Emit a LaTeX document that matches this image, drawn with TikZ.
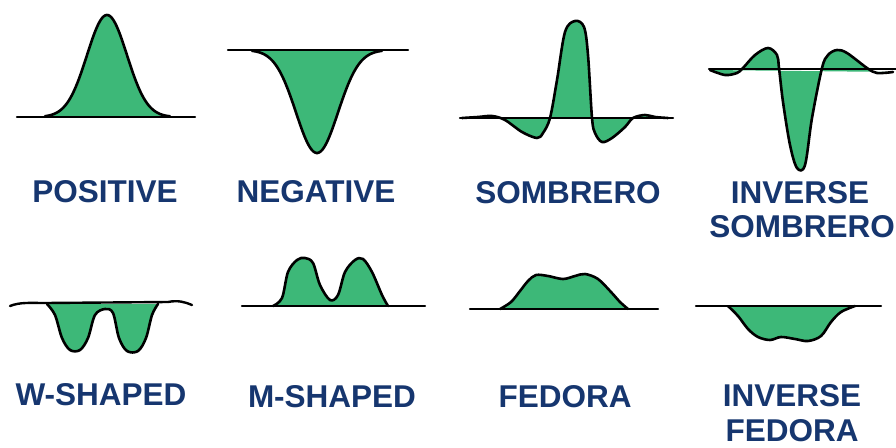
\documentclass[tikz,border=0pt]{standalone}
\usepackage{fontspec}
\setmainfont{Liberation Sans}
\definecolor{curvegreen}{HTML}{3DB878}
\definecolor{labelblue}{HTML}{16366F}
\begin{document}
\begin{tikzpicture}[x=1pt,y=-1pt,
  area/.style={fill=curvegreen},
  curve/.style={draw=black,line width=2.6pt,line join=round,line cap=round},
  axis/.style={draw=black,line width=2.4pt,line cap=round},
  lbl/.style={anchor=base,inner sep=0pt,text=labelblue,font=\fontsize{31.5}{34}\selectfont\bfseries}]
\useasboundingbox (0,0) rectangle (896,447);
\fill[white] (0,0) rectangle (896,447);

% POSITIVE
\fill[area] plot[domain=45:170,samples=90] (\x,{117-102*exp(-((\x-107)/20)*((\x-107)/20)/2)}) -- cycle;
\draw[axis] (17,117) -- (195,117);
\draw[curve] plot[domain=45:170,samples=90] (\x,{117-102*exp(-((\x-107)/20)*((\x-107)/20)/2)});
\node[lbl] (positive) at (105,202) {POSITIVE};

% NEGATIVE
\fill[area] plot[domain=252:382,samples=90] (\x,{50+103*exp(-((\x-317)/21)*((\x-317)/21)/2)}) -- cycle;
\draw[axis] (228,50) -- (408,50);
\draw[curve] plot[domain=252:382,samples=90] (\x,{50+103*exp(-((\x-317)/21)*((\x-317)/21)/2)});
\node[lbl] (negative) at (316,202) {NEGATIVE};

% SOMBRERO
\def\sombrero{(462,118) (478,117) (492,116) (505,120) (522,132) (537,138) (543,133) (550,118) (557,80) (565,32) (575,21) (584,27) (588,55) (592,118) (595,133) (602,142) (612,138) (625,127) (633,118) (645,115) (655,117) (668,118)}
\fill[area] plot[smooth,tension=0.55] coordinates {\sombrero} -- cycle;
\draw[axis] (460,118) -- (673,118);
\draw[curve] plot[smooth,tension=0.55] coordinates {\sombrero};
\node[lbl] (sombrero) at (568,203) {SOMBRERO};

% INVERSE SOMBRERO
\def\invsomb{(710,70) (725,75) (737,73) (743,68) (755,55) (768,48) (777,55) (779,68) (783,102) (790,145) (797,168) (805,165) (812,118) (822,68) (828,55) (837,50) (847,53) (867,68) (877,73) (893,72)}
\fill[area] plot[smooth,tension=0.55] coordinates {\invsomb} -- cycle;
\draw[axis] (709,69) -- (896,69);
\draw[curve] plot[smooth,tension=0.55] coordinates {\invsomb};
\node[lbl] (invsomb1) at (800,203) {INVERSE};
\node[lbl] (invsomb2) at (802,237) {SOMBRERO};

% W-SHAPED
\def\wshape{(47,304) (55,315) (62,338) (70,350) (80,350) (88,338) (95,315) (105,309) (113,313) (119,338) (127,351) (138,351) (146,338) (152,315) (158,304)}
\fill[area] plot[smooth,tension=0.55] coordinates {\wshape} -- cycle;
\draw[axis] (10,306) .. controls (20,302) and (30,303) .. (45,303) -- (168,302) .. controls (178,300) and (185,302) .. (192,305);
\draw[curve] plot[smooth,tension=0.55] coordinates {\wshape};
\node[lbl] (wshaped) at (101,405) {W-SHAPED};

% M-SHAPED
\def\mshape{(273,306) (282,298) (288,272) (297,260) (305,258) (313,263) (320,285) (330,300) (338,295) (345,272) (355,260) (363,259) (372,272) (382,295) (388,306)}
\fill[area] plot[smooth,tension=0.55] coordinates {\mshape} -- cycle;
\draw[axis] (242,306) -- (425,306);
\draw[curve] plot[smooth,tension=0.55] coordinates {\mshape};
\node[lbl] (mshaped) at (332,407) {M-SHAPED};

% FEDORA
\def\fedora{(500,309) (511,302) (520,291) (528,281) (536,275) (548,276) (563,279) (575,276) (585,274) (598,279) (611,292) (620,302) (628,309)}
\fill[area] plot[smooth,tension=0.55] coordinates {\fedora} -- cycle;
\draw[axis] (470,309) -- (658,309);
\draw[curve] plot[smooth,tension=0.55] coordinates {\fedora};
\node[lbl] (fedora) at (565,407) {FEDORA};

% INVERSE FEDORA
\def\invfed{(728,306) (738,316) (748,329) (758,337) (770,340) (781,337) (795,339) (808,341) (821,336) (831,322) (841,312) (855,306)}
\fill[area] plot[smooth,tension=0.55] coordinates {\invfed} -- cycle;
\draw[axis] (696,306) -- (881,306);
\draw[curve] plot[smooth,tension=0.55] coordinates {\invfed};
\node[lbl] (invfed1) at (792,406) {INVERSE};
\node[lbl] (invfed2) at (792,441) {FEDORA};
\end{tikzpicture}
\end{document}
